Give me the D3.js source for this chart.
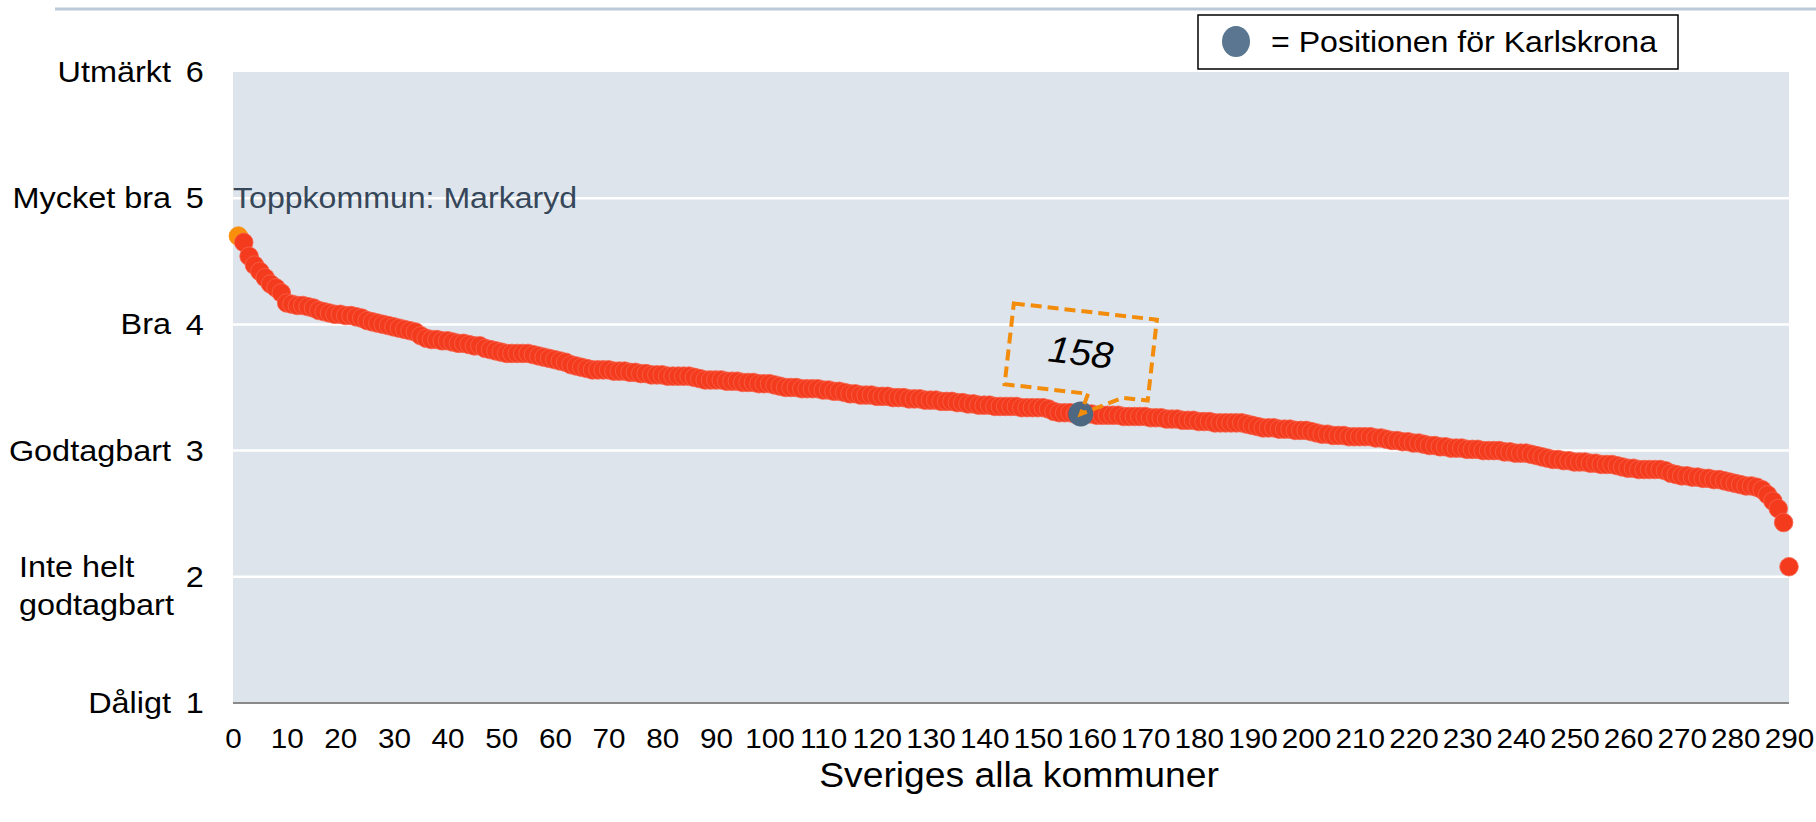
<!DOCTYPE html>
<html>
<head>
<meta charset="utf-8">
<script src="https://cdn.jsdelivr.net/npm/d3@7"></script>
<style>
  body { margin: 0; background: #fff; }
  svg { display: block; font-family: "Liberation Sans", Arial, sans-serif; }
</style>
</head>
<body>
<div id="chart"></div>
<script>
// medelbetyg per kommun, sorterat fallande (rang 1 = toppkommun)
const scores = [
  4.70, 4.65, 4.54, 4.47, 4.42, 4.37, 4.32, 4.29, 4.25, 4.17,
  4.16, 4.15, 4.15, 4.14, 4.13, 4.11, 4.10, 4.09, 4.08, 4.08,
  4.07, 4.07, 4.06, 4.05, 4.03, 4.02, 4.01, 4.00, 3.99, 3.98,
  3.97, 3.96, 3.95, 3.94, 3.91, 3.89, 3.88, 3.88, 3.87, 3.87,
  3.86, 3.85, 3.85, 3.84, 3.83, 3.83, 3.81, 3.80, 3.79, 3.78,
  3.77, 3.77, 3.77, 3.77, 3.77, 3.76, 3.75, 3.74, 3.73, 3.72,
  3.71, 3.70, 3.68, 3.67, 3.66, 3.65, 3.64, 3.64, 3.64, 3.64,
  3.63, 3.63, 3.63, 3.62, 3.62, 3.61, 3.61, 3.60, 3.60, 3.60,
  3.59, 3.59, 3.59, 3.59, 3.59, 3.58, 3.57, 3.56, 3.56, 3.56,
  3.56, 3.55, 3.55, 3.55, 3.54, 3.54, 3.54, 3.53, 3.53, 3.53,
  3.52, 3.51, 3.50, 3.50, 3.50, 3.49, 3.49, 3.49, 3.49, 3.48,
  3.48, 3.47, 3.47, 3.46, 3.45, 3.45, 3.44, 3.44, 3.44, 3.43,
  3.43, 3.43, 3.42, 3.42, 3.42, 3.41, 3.41, 3.41, 3.40, 3.40,
  3.40, 3.39, 3.39, 3.39, 3.38, 3.38, 3.37, 3.37, 3.36, 3.36,
  3.36, 3.35, 3.35, 3.35, 3.35, 3.35, 3.34, 3.34, 3.34, 3.34,
  3.34, 3.33, 3.31, 3.30, 3.30, 3.30, 3.29, 3.29, 3.29, 3.29,
  3.28, 3.28, 3.28, 3.28, 3.28, 3.27, 3.27, 3.27, 3.27, 3.27,
  3.26, 3.26, 3.26, 3.25, 3.25, 3.25, 3.24, 3.24, 3.24, 3.23,
  3.23, 3.23, 3.22, 3.22, 3.22, 3.22, 3.22, 3.22, 3.21, 3.20,
  3.19, 3.18, 3.18, 3.18, 3.17, 3.17, 3.17, 3.16, 3.16, 3.16,
  3.15, 3.14, 3.13, 3.13, 3.12, 3.12, 3.12, 3.11, 3.11, 3.11,
  3.11, 3.11, 3.10, 3.10, 3.09, 3.08, 3.08, 3.07, 3.07, 3.06,
  3.06, 3.05, 3.04, 3.04, 3.03, 3.03, 3.02, 3.02, 3.02, 3.01,
  3.01, 3.01, 3.00, 3.00, 3.00, 3.00, 2.99, 2.99, 2.98, 2.98,
  2.98, 2.97, 2.96, 2.95, 2.94, 2.93, 2.93, 2.92, 2.92, 2.91,
  2.91, 2.91, 2.90, 2.90, 2.89, 2.89, 2.89, 2.88, 2.87, 2.86,
  2.86, 2.85, 2.85, 2.85, 2.85, 2.85, 2.84, 2.82, 2.81, 2.80,
  2.80, 2.79, 2.79, 2.78, 2.78, 2.77, 2.77, 2.76, 2.75, 2.74,
  2.73, 2.72, 2.72, 2.71, 2.69, 2.65, 2.60, 2.54, 2.43, 2.08
];

const yTicks = [1, 2, 3, 4, 5, 6];
const yLabels = [["Dåligt"], ["Inte helt", "godtagbart"], ["Godtagbart"], ["Bra"], ["Mycket bra"], ["Utmärkt"]];
const xTicks = [0, 10, 20, 30, 40, 50, 60, 70, 80, 90, 100, 110, 120, 130, 140, 150, 160, 170, 180, 190, 200, 210, 220, 230, 240, 250, 260, 270, 280, 290];
const topLabel = "Toppkommun: Markaryd";
const legendLabel = "= Positionen för Karlskrona";
const xTitle = "Sveriges alla kommuner";
const markedRank = 158;

const width = 1816, height = 822;
const plot = { left: 233, right: 1789, top: 72, bottom: 703 };
const fontSize = 30;
const stretch = 1.08; // the source text is a bit wider than plain Arial

const svg = d3.select("#chart").append("svg")
  .attr("width", width)
  .attr("height", height);

const x = d3.scaleLinear().domain([0, 290]).range([plot.left, plot.right]);
const y = d3.scaleLinear().domain([1, 6]).range([plot.bottom, plot.top]);

// helper: text placed at (px,py), stretched horizontally
function label(g, px, py, txt, sx, anchor) {
  return g.append("text")
    .attr("transform", `translate(${px},${py}) scale(${sx},1)`)
    .attr("text-anchor", anchor || "start")
    .style("font-size", fontSize + "px")
    .text(txt);
}

// thin rule at the very top
svg.append("line")
  .attr("x1", 55).attr("x2", width)
  .attr("y1", 9).attr("y2", 9)
  .attr("stroke", "#bccad8").attr("stroke-width", 3);

svg.append("rect")
  .attr("x", plot.left).attr("y", plot.top)
  .attr("width", plot.right - plot.left)
  .attr("height", plot.bottom - plot.top)
  .attr("fill", "#dde4eb");

svg.selectAll(".grid")
  .data(yTicks.filter(d => d > 1 && d < 6))
  .enter().append("line")
  .attr("class", "grid")
  .attr("x1", plot.left).attr("x2", plot.right)
  .attr("y1", d => y(d)).attr("y2", d => y(d))
  .attr("stroke", "#fff").attr("stroke-width", 2.5);

svg.append("line")
  .attr("x1", plot.left).attr("x2", plot.right)
  .attr("y1", plot.bottom).attr("y2", plot.bottom)
  .attr("stroke", "#8a8a8a").attr("stroke-width", 2);

// x axis
const xAxis = svg.append("g")
  .attr("transform", `translate(0,${plot.bottom})`)
  .call(d3.axisBottom(x).tickValues(xTicks).tickFormat(d3.format("d")).tickSize(0).tickPadding(25));
xAxis.select(".domain").remove();
xAxis.selectAll("text")
  .attr("fill", "#000")
  .attr("transform", "scale(1.06,1)")
  .style("font-size", "28px")
  .style("font-family", "Liberation Sans, Arial, sans-serif");

// y axis numbers
const yAxis = svg.append("g")
  .attr("transform", `translate(${plot.left},0)`)
  .call(d3.axisLeft(y).tickValues(yTicks).tickFormat(d3.format("d")).tickSize(0).tickPadding(27));
yAxis.select(".domain").remove();
yAxis.selectAll("text")
  .attr("fill", "#000")
  .attr("transform", `scale(${stretch},1)`)
  .style("font-size", fontSize + "px")
  .style("font-family", "Liberation Sans, Arial, sans-serif");

// y category names
yTicks.forEach((t, i) => {
  const lines = yLabels[i];
  if (lines.length === 1) {
    label(svg, 171, y(t) + 10, lines[0], stretch, "end");
  } else {
    lines.forEach((l, j) => label(svg, 19, y(t) + j * 38, l, stretch));
  }
});

label(svg, plot.left, y(5) + 10, topLabel, 1.07).attr("fill", "#36475a");

// dots
const pts = scores.map((v, i) => ({ rank: i + 1, v }));

svg.selectAll(".dot")
  .data(pts)
  .enter().append("circle")
  .attr("class", "dot")
  .attr("cx", d => x(d.rank))
  .attr("cy", d => y(d.v))
  .attr("r", 9.3)
  .attr("fill", d => d.rank === 1 ? "#f98f0a" : "#f43b1e")
  .attr("stroke", d => d.rank === 1 ? "#f98f0a" : "#f7624a")
  .attr("stroke-width", 0.8);

const marked = pts[markedRank - 1];
const mx = x(marked.rank), my = y(marked.v);

svg.append("circle")
  .attr("cx", mx).attr("cy", my)
  .attr("r", 12.5)
  .attr("fill", "#4d6880");

// callout
const angle = 6.5;
const cx = mx, cy = my - 62;
const rad = angle * Math.PI / 180;
const dx = mx - cx, dy = my - cy;
const tipX = dx * Math.cos(rad) + dy * Math.sin(rad);
const tipY = -dx * Math.sin(rad) + dy * Math.cos(rad);
const hw = 72, hh = 40.7;

const callout = svg.append("g")
  .attr("transform", `translate(${cx},${cy}) rotate(${angle})`);

callout.append("path")
  .attr("d", `M${-hw},${-hh} L${hw},${-hh} L${hw},${hh} L47,${hh} L${tipX},${tipY} L12,${hh} L${-hw},${hh} Z`)
  .attr("fill", "none")
  .attr("stroke", "#f28c0a")
  .attr("stroke-width", 4)
  .attr("stroke-dasharray", "11 6");

callout.append("text")
  .attr("transform", `translate(0,13) scale(1.05,1)`)
  .attr("text-anchor", "middle")
  .style("font-size", "37px")
  .style("font-style", "italic")
  .text(String(markedRank));

// legend
const legend = svg.append("g");
legend.append("rect")
  .attr("x", 1198).attr("y", 15)
  .attr("width", 480).attr("height", 54)
  .attr("fill", "#fff")
  .attr("stroke", "#000")
  .attr("stroke-width", 1.5);
legend.append("ellipse")
  .attr("cx", 1236).attr("cy", 41.5)
  .attr("rx", 14).attr("ry", 15.5)
  .attr("fill", "#5a7690");
label(legend, 1271, 52, legendLabel, 1.07);

svg.append("text")
  .attr("transform", `translate(${(plot.left + plot.right) / 2 + 8},787) scale(1.05,1)`)
  .attr("text-anchor", "middle")
  .style("font-size", "35.5px")
  .text(xTitle);
</script>
</body>
</html>
